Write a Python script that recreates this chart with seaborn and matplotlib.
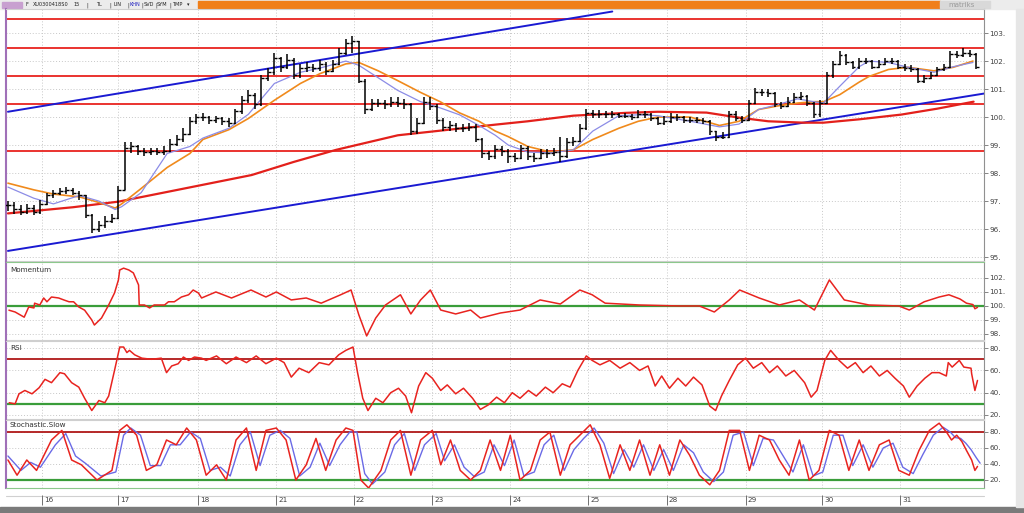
import numpy as np
import pandas as pd
import matplotlib
matplotlib.use("Agg")
import matplotlib.pyplot as plt
import matplotlib.transforms as mtransforms
import seaborn as sns

# ---------------- data ----------------
close = [96.85, 96.7, 96.6, 96.75, 96.6, 96.9, 97.2, 97.3, 97.35, 97.4,
         97.3, 97.2, 96.5, 96.0, 96.15, 96.3, 96.4, 97.4, 98.9, 98.95,
         98.8, 98.75, 98.8, 98.75, 98.8, 99.05, 99.2, 99.4, 99.85, 100.0,
         100.0, 99.9, 99.95, 99.85, 99.8, 100.2, 100.6, 100.8, 100.45, 101.4,
         101.6, 102.1, 101.8, 102.05, 101.5, 101.75, 101.8, 101.75, 101.9, 101.65,
         101.9, 102.3, 102.65, 102.7, 101.3, 100.3, 100.5, 100.5, 100.45, 100.55,
         100.5, 100.45, 99.5, 99.8, 100.55, 100.4, 99.9, 99.65, 99.7, 99.6,
         99.6, 99.65, 99.2, 98.7, 98.6, 98.85, 98.8, 98.6, 98.55, 98.9,
         98.6, 98.55, 98.7, 98.7, 98.75, 98.6, 99.1, 99.15, 99.6, 100.15,
         100.1, 100.1, 100.1, 100.1, 100.05, 100.05, 100.0, 100.1, 100.1, 99.95,
         99.8, 99.85, 100.0, 100.0, 99.9, 99.9, 99.9, 99.85, 99.5, 99.3,
         99.3, 100.1, 99.95, 99.9, 100.5, 100.9, 100.9, 100.85, 100.45, 100.4,
         100.55, 100.7, 100.75, 100.5, 100.1, 100.5, 101.5, 101.9, 102.2, 101.95,
         101.8, 102.0, 102.0, 101.8, 101.9, 102.0, 102.0, 101.8, 101.75, 101.7,
         101.3, 101.4, 101.5, 101.7, 101.8, 102.25, 102.2, 102.3, 102.25, 101.8]

high = [97.0, 96.95, 96.85, 96.9, 96.85, 97.05, 97.3, 97.4, 97.45, 97.5,
        97.45, 97.35, 97.2, 96.55, 96.3, 96.45, 96.55, 97.55, 99.1, 99.1,
        99.0, 98.9, 98.9, 98.9, 98.95, 99.2, 99.35, 99.6, 100.0, 100.1,
        100.15, 100.05, 100.05, 100.0, 99.95, 100.3, 100.75, 100.95, 100.85, 101.5,
        101.75, 102.3, 102.15, 102.25, 102.1, 101.9, 101.95, 101.9, 102.05, 101.95,
        102.05, 102.45, 102.8, 102.9, 102.7, 101.35, 100.65, 100.65, 100.6, 100.7,
        100.7, 100.65, 100.5, 99.95, 100.7, 100.7, 100.45, 99.95, 99.85, 99.8,
        99.75, 99.8, 99.75, 99.25, 98.8, 99.0, 98.95, 98.85, 98.7, 99.0,
        98.95, 98.7, 98.85, 98.85, 98.9, 99.3, 99.25, 99.3, 99.75, 100.3,
        100.25, 100.25, 100.2, 100.2, 100.15, 100.15, 100.12, 100.25, 100.2, 100.15,
        100.0, 100.05, 100.15, 100.1, 100.05, 100.0, 100.0, 99.95, 99.9, 99.5,
        99.45, 100.2, 100.2, 100.05, 100.6, 101.05, 101.0, 101.0, 100.9, 100.55,
        100.7, 100.85, 100.9, 100.8, 100.55, 100.6, 101.6, 102.0, 102.35, 102.25,
        102.0, 102.1, 102.1, 102.05, 102.05, 102.1, 102.1, 102.05, 101.9, 101.85,
        101.75, 101.5, 101.6, 101.8, 101.9, 102.35, 102.35, 102.45, 102.4, 102.3]

low = [96.65, 96.55, 96.5, 96.55, 96.5, 96.55, 96.85, 97.1, 97.2, 97.25,
       97.2, 97.05, 96.4, 95.85, 95.9, 96.05, 96.2, 96.35, 97.4, 98.7,
       98.65, 98.6, 98.65, 98.65, 98.65, 98.75, 98.95, 99.1, 99.35, 99.75,
       99.85, 99.75, 99.8, 99.7, 99.65, 99.75, 100.1, 100.5, 100.3, 100.4,
       101.3, 101.5, 101.6, 101.7, 101.35, 101.4, 101.6, 101.6, 101.65, 101.5,
       101.6, 101.85, 102.2, 102.3, 101.2, 100.1, 100.2, 100.35, 100.3, 100.35,
       100.35, 100.3, 99.35, 99.4, 99.75, 100.25, 99.75, 99.5, 99.5, 99.45,
       99.45, 99.5, 99.1, 98.55, 98.45, 98.5, 98.6, 98.35, 98.4, 98.5,
       98.45, 98.4, 98.5, 98.55, 98.6, 98.4, 98.55, 98.95, 99.1, 99.55,
       99.95, 99.95, 99.95, 99.95, 99.95, 99.95, 99.9, 99.95, 99.95, 99.85,
       99.7, 99.7, 99.8, 99.85, 99.8, 99.8, 99.8, 99.75, 99.35, 99.15,
       99.2, 99.25, 99.85, 99.8, 99.85, 100.45, 100.75, 100.7, 100.35, 100.3,
       100.35, 100.5, 100.6, 100.4, 99.95, 100.0, 100.45, 101.4, 101.85, 101.85,
       101.7, 101.7, 101.9, 101.7, 101.75, 101.85, 101.9, 101.7, 101.65, 101.6,
       101.2, 101.2, 101.35, 101.45, 101.65, 101.75, 102.1, 102.15, 102.15, 101.7]

ma_t = [0, 4, 7, 11, 14, 16.5, 17.5, 20.5, 24.5, 28, 30, 34, 37, 41, 45, 48, 52, 54, 57,
        60, 63.5, 66.5, 69.5, 72.5, 75, 77, 80, 83.5, 87, 90, 94, 97, 100, 105, 109.5,
        112.5, 115.5, 118.5, 121.5, 124, 125.5, 128, 131, 132.5, 135.5, 138.5, 142.5,
        145.5, 148.5]
ma_fast = [97.5, 97.1, 96.9, 97.2, 97.0, 96.7, 96.8, 97.3, 98.7, 98.95, 99.25, 99.6,
           100.1, 101.2, 101.6, 101.75, 102.0, 101.85, 101.4, 100.95, 100.55, 100.33,
           100.08, 99.7, 99.35, 99.0, 98.75, 98.72, 98.83, 99.5, 100.05, 100.08, 100.05,
           99.85, 99.65, 99.75, 100.27, 100.45, 100.65, 100.55, 100.5, 101.1, 101.8,
           102.0, 101.95, 101.78, 101.6, 101.8, 101.95]
ma_mid = [97.64, 97.4, 97.25, 97.15, 96.95, 96.75, 96.9, 97.45, 98.2, 98.7, 99.2, 99.55,
          99.95, 100.6, 101.2, 101.55, 101.9, 101.95, 101.65, 101.3, 100.88, 100.55,
          100.15, 99.85, 99.5, 99.3, 98.95, 98.75, 98.83, 99.2, 99.6, 99.85, 100.0,
          100.0, 99.7, 99.85, 100.27, 100.4, 100.5, 100.55, 100.55, 100.8, 101.25,
          101.45, 101.7, 101.78, 101.65, 101.78, 102.0]

ma_slow_t = [0, 10, 17, 25, 37.5, 44, 50.5, 60, 75, 80, 87, 95, 100, 107.5, 112.5, 117,
             122.5, 125.5, 131, 137.5, 143, 148.6]
ma_slow = [96.56, 96.78, 96.98, 97.35, 97.93, 98.4, 98.83, 99.35, 99.73, 99.85, 100.05,
           100.15, 100.19, 100.16, 99.98, 99.85, 99.8, 99.8, 99.92, 100.09, 100.3, 100.55]

levels = [103.5, 102.45, 101.45, 100.45, 98.8]
upper_trend_t = [0, 93]
upper_trend = [100.19, 103.77]
lower_trend_t = [0, 150.2]
lower_trend = [95.22, 100.84]

mom_t = [0.15, 1.1, 2.5, 3.2, 4.0, 4.1, 4.9, 5.5, 6.0, 6.7, 7.8, 8.6, 9.4, 10.1, 10.9,
         11.8, 12.9, 13.3, 14.4, 15.5, 16.4, 17.0, 17.2, 17.8, 18.6, 19.3, 20.1, 20.2,
         21.0, 21.8, 22.5, 24.1, 24.7, 25.6, 26.7, 27.8, 28.5, 29.3, 29.8,
         32, 34.4, 37.4, 39.7, 41.3, 43.6, 45.9, 48.2, 51.2, 52.8, 54,
         55.2, 56.6, 58.1, 60.4, 62, 63.5, 65, 66.6, 68.9, 71.2, 72.7, 75.8, 78.8, 81.9,
         85, 88, 89.9, 91.9, 97.2, 103.4, 106.4, 108.7, 111, 112.6, 115.6, 118.7, 121.8,
         124.1, 126.4, 128.7, 132.5, 137.1, 138.7, 141.0, 143.3, 144.8, 146.5, 147.5,
         148.5, 148.8, 149.2]
mom = [99.7, 99.57, 99.2, 99.93, 99.86, 100.2, 100.07, 100.57, 100.3, 100.64, 100.57,
       100.43, 100.3, 100.3, 99.93, 99.7, 99.0, 98.64, 99.14, 100.07, 100.93, 101.86,
       102.57, 102.7, 102.57, 102.36, 101.5, 100.07, 100.07, 99.86, 100.07, 100.07, 100.3,
       100.3, 100.64, 100.8, 101.14, 100.93, 100.57,
       101.0, 100.57, 101.14, 100.64, 101.0, 100.43, 100.57, 100.2, 100.8, 101.14, 99.36,
       97.86, 99.14, 100.07, 100.8, 99.43, 100.43, 101.14, 99.71, 99.43, 99.71, 99.14,
       99.5, 99.71, 100.43, 100.14, 101.14, 100.8, 100.2, 100.07, 100.0, 100.0, 99.57,
       100.43, 101.14, 100.57, 100.07, 100.43, 99.71, 101.86, 100.43, 100.07, 100.0,
       99.71, 100.3, 100.64, 100.8, 100.5, 100.2, 100.1, 99.8, 99.9]

rsi_t = [0.2, 1.1, 1.7, 2.6, 3.7, 4.8, 5.7, 6.7, 8.0, 8.7, 9.8, 10.9, 11.8, 12.9, 14.0,
         14.9, 15.5, 16.4, 17.2, 17.8, 18.3, 18.7, 19.5, 20.6, 22.1, 23.6, 24.4, 25.2,
         26.2, 27.0, 27.8, 28.7, 29.8,
         30.5, 32.1, 33.6, 35.1, 36.7, 38.2, 39.7, 41.3, 42.5, 43.6, 44.8, 46.3, 47.9,
         49.4, 50.9, 52.0, 53.1, 53.8, 54.6, 55.4, 56.6, 57.7, 58.9, 60.1, 61.2, 62.1,
         63.2, 64.3, 65.3, 66.6, 67.6, 68.9, 70.1, 71.5, 72.7, 73.9, 75.2, 76.4, 77.6,
         78.8, 80.1, 81.3, 82.7, 83.9, 85.3, 86.5, 87.7, 89.0, 89.9, 91.1, 92.6, 94.2,
         95.7, 97.2, 98.5, 99.6, 100.6, 101.8, 103.1, 104.3, 105.5, 106.8, 108.0, 108.9,
         109.8, 111.0, 112.3, 113.5, 114.7, 116.0, 117.2, 118.4, 119.7, 121.0, 122.6,
         123.6, 124.5, 125.7, 126.6, 127.9, 129.2, 130.4, 131.6, 132.8, 134.1, 135.3,
         136.5, 137.8, 138.7, 139.9, 141.1, 142.2, 143.3, 144.4, 144.7, 145.3, 146.4,
         147.1, 148.2, 148.3, 148.8, 149.2]
rsi = [31, 30, 39, 42, 39, 44.5, 52, 49, 58, 57, 49, 45, 35, 24, 33, 31, 37, 60, 81, 81,
       76, 78, 74, 71, 70, 71, 58, 64, 66, 72, 69, 72, 71,
       69, 73, 66, 72, 67, 73, 66, 71, 67, 54, 62, 58, 67,
       65, 74, 78, 81, 58, 35, 24, 35, 31, 40, 44, 37, 22,
       46, 58, 53, 42, 47, 39, 44, 35, 25, 29, 36, 31, 40,
       35, 42, 37, 45, 40, 48, 45, 60, 73, 69, 65, 69, 62,
       67, 60, 64, 46, 55, 44, 53, 46, 54, 47, 28, 24,
       37, 51, 65, 71, 62, 67, 58, 64, 55, 60, 49,
       36, 42, 69, 78, 69, 62, 67, 58, 64, 55, 60,
       53, 46, 36, 46, 53, 58, 58, 55, 67, 63, 69,
       63, 62, 57, 42, 51]

stoch_t = [0, 1.4, 2.9, 4.4, 6.7, 8.3, 9.8, 11.3, 13.7, 16.0,
           17.2, 18.3, 19.8, 21.3, 22.9, 24.4, 25.9, 27.5, 29.0, 30.5,
           32.1, 33.6, 35.1, 36.7, 38.2, 39.7, 41.3, 42.8, 44.3, 45.9,
           47.4, 48.9, 50.5, 52.0, 53.1, 54.3, 55.5, 57.4, 58.9, 60.4,
           62.0, 63.5, 65.3, 66.6, 68.1, 69.6, 71.2, 72.7, 74.2, 75.8,
           77.3, 78.8, 80.4, 81.9, 83.4, 85.0, 86.5, 88.0, 89.6, 91.1,
           92.6, 94.2, 95.7, 97.2, 98.8, 100.3, 101.8, 103.4, 104.9, 106.4,
           108.0, 109.5, 111.0, 112.6, 114.1, 115.6, 117.2, 118.7, 120.2, 121.8,
           123.3, 124.8, 126.4, 127.9, 129.4, 131.0, 132.5, 134.1, 135.6, 137.1,
           138.7, 140.2, 141.8, 143.3, 144.5, 145.2, 146.0, 146.8, 147.5, 148.3,
           148.8, 149.2]
stoch_k = [45, 26, 45, 32, 70, 82, 45, 39, 20, 32,
           82, 89, 76, 32, 39, 70, 64, 85, 70, 26,
           39, 20, 70, 85, 32, 82, 85, 70, 20, 39,
           72, 32, 70, 85, 82, 20, 10, 32, 70, 82,
           26, 70, 82, 39, 70, 32, 20, 32, 70, 32,
           76, 20, 32, 70, 80, 26, 64, 76, 89, 64,
           22, 64, 32, 70, 26, 64, 26, 70, 51, 26,
           14, 32, 82, 82, 32, 76, 70, 45, 26, 70,
           20, 32, 82, 76, 32, 70, 32, 64, 70, 32,
           26, 57, 82, 91, 79, 70, 76, 68, 57, 45,
           32, 37]
stoch_d_t = [0, 2.0, 3.5, 5.0, 7.3, 8.9, 10.4, 11.9, 14.3, 16.6,
             17.8, 18.9, 20.4, 21.9, 23.5, 25.0, 26.5, 28.1, 29.6, 31.1,
             32.7, 34.2, 35.7, 37.3, 38.8, 40.3, 41.9, 43.4, 44.9, 46.5,
             48.0, 49.5, 51.1, 52.6, 53.7, 54.9, 56.1, 58.0, 59.5, 61.0,
             62.6, 64.1, 65.9, 67.2, 68.7, 70.2, 71.8, 73.3, 74.8, 76.4,
             77.9, 79.4, 81.0, 82.5, 84.0, 85.6, 87.1, 88.6, 90.2, 91.7,
             93.2, 94.8, 96.3, 97.8, 99.4, 100.9, 102.4, 104.0, 105.5, 107.0,
             108.6, 110.1, 111.6, 113.2, 114.7, 116.2, 117.8, 119.3, 120.8, 122.4,
             123.9, 125.4, 127.0, 128.5, 130.0, 131.6, 133.1, 134.7, 136.2, 137.7,
             139.3, 140.8, 142.4, 143.9, 145.0, 145.8, 146.6, 147.4, 148.2, 149.0,
             149.6]
stoch_d = [50, 32, 42, 36, 64, 78, 50, 41, 25, 30,
           76, 85, 76, 38, 38, 64, 64, 80, 72, 32,
           36, 25, 64, 80, 38, 76, 82, 72, 25, 36,
           66, 38, 64, 80, 80, 28, 15, 30, 64, 78,
           32, 64, 78, 44, 64, 36, 24, 30, 64, 38,
           70, 25, 30, 64, 76, 32, 58, 72, 85, 66,
           28, 58, 36, 64, 32, 58, 32, 64, 54, 30,
           18, 30, 76, 80, 38, 72, 70, 50, 30, 64,
           25, 30, 76, 76, 38, 64, 36, 60, 66, 36,
           28, 52, 76, 86, 80, 73, 72, 66, 58, 48,
           41]

day_labels = ["16", "17", "18", "21", "22", "23", "24", "25", "28", "29", "30", "31"]
day_pos = [5.2, 17.0, 29.3, 41.3, 53.2, 65.3, 77.3, 89.3, 101.4, 113.5, 125.3, 137.3]

toolbar_items = ["F", "XU0300418S0", "15", "|", "TL", "|", "LIN", "|", "KHN", "|",
                 "SVD", "|", "SYM", "|", "TMP", "\u25be"]

# ---------------- style ----------------
sns.set_style("white")
plt.rcParams["font.family"] = ["DejaVu Sans"]

W, H = 1024, 513
fig = plt.figure(figsize=(W / 100, H / 100), dpi=100)
fig.patch.set_facecolor("white")

def box(top, bottom):
    return [6 / W, 1 - bottom / H, 978 / W, (bottom - top) / H]

XLIM = (-0.3, 150.2)
ax_main = fig.add_axes(box(9, 261))
ax_mom = fig.add_axes(box(262, 340))
ax_rsi = fig.add_axes(box(341, 419))
ax_sto = fig.add_axes(box(420, 488))
axes = [ax_main, ax_mom, ax_rsi, ax_sto]

RED = "#e8231f"
DARKRED = "#b01818"
GREEN = "#3a9d3a"
GRID = "#c8c8c8"

for ax in axes:
    ax.set_xlim(*XLIM)
    ax.set_facecolor("white")
    for s in ["top", "bottom"]:
        ax.spines[s].set_color("#cfcfcf")
        ax.spines[s].set_linewidth(0.8)
    ax.spines["left"].set_color("#a070b8")
    ax.spines["left"].set_linewidth(1.5)
    ax.spines["right"].set_color("#909090")
    ax.spines["right"].set_linewidth(0.8)
    ax.yaxis.tick_right()
    ax.tick_params(axis="y", direction="out", length=3, width=0.6, color="#707070",
                   labelsize=5.2, labelcolor="#404040", pad=1)
    ax.set_xticks(day_pos)
    ax.tick_params(axis="x", length=0, labelbottom=False)
    ax.grid(True, color=GRID, linestyle=(0, (1, 2)), linewidth=0.7)

def fmt_ticks(ax, ticks):
    ax.set_yticks(ticks)
    ax.set_yticklabels([f"{t:.0f}." for t in ticks])

# ---------------- main panel ----------------
ax_main.set_ylim(94.86, 103.86)
fmt_ticks(ax_main, list(range(95, 104)))

for lv in levels:
    ax_main.axhline(lv, color=RED, lw=1.3, zorder=2)

sns.lineplot(x=upper_trend_t, y=upper_trend, ax=ax_main, color="#1a1ad2", lw=1.4, zorder=3)
sns.lineplot(x=lower_trend_t, y=lower_trend, ax=ax_main, color="#1a1ad2", lw=1.4, zorder=3)
sns.lineplot(x=ma_slow_t, y=ma_slow, ax=ax_main, color="#e3201b", lw=1.6, zorder=3)
sns.lineplot(x=ma_t, y=ma_mid, ax=ax_main, color="#f08a1c", lw=1.2, zorder=4)
sns.lineplot(x=ma_t, y=ma_fast, ax=ax_main, color="#8c8ce6", lw=0.9, zorder=4)

c = np.array(close)
o = np.concatenate([[c[0]], c[:-1]])
idx = np.arange(len(c))
ax_main.vlines(idx, low, high, color="black", lw=1.1, zorder=5)
ax_main.hlines(o, idx - 0.42, idx, color="black", lw=1.0, zorder=5)
ax_main.hlines(c, idx, idx + 0.42, color="black", lw=1.0, zorder=5)

# ---------------- momentum ----------------
ax_mom.set_ylim(97.57, 103.14)
fmt_ticks(ax_mom, [98, 99, 100, 101, 102])
ax_mom.axhline(100, color=GREEN, lw=1.6, zorder=2)
sns.lineplot(x=mom_t, y=mom, ax=ax_mom, color=RED, lw=1.1, zorder=3, sort=False)
ax_mom.text(0.004, 0.93, "Momentum", transform=ax_mom.transAxes, fontsize=5.2,
            va="top", ha="left", color="#303030")
ax_mom.spines["top"].set_color("#8cc88c")

# ---------------- RSI ----------------
ax_rsi.set_ylim(16.4, 86.4)
fmt_ticks(ax_rsi, [20, 40, 60, 80])
ax_rsi.axhline(70, color=DARKRED, lw=1.3, zorder=2)
ax_rsi.axhline(30, color=GREEN, lw=1.6, zorder=2)
sns.lineplot(x=rsi_t, y=rsi, ax=ax_rsi, color=RED, lw=1.1, zorder=3, sort=False)
ax_rsi.text(0.004, 0.95, "RSI", transform=ax_rsi.transAxes, fontsize=5.2,
            va="top", ha="left", color="#303030")

# ---------------- stochastic ----------------
ax_sto.set_ylim(10, 95)
fmt_ticks(ax_sto, [20, 40, 60, 80])
ax_sto.axhline(80, color=DARKRED, lw=1.3, zorder=2)
ax_sto.axhline(20, color=GREEN, lw=1.6, zorder=2)
sns.lineplot(x=stoch_d_t, y=stoch_d, ax=ax_sto, color="#6a6ae6", lw=1.0, zorder=3, sort=False)
sns.lineplot(x=stoch_t, y=stoch_k, ax=ax_sto, color=RED, lw=1.1, zorder=4, sort=False)
ax_sto.text(0.004, 0.97, "Stochastic.Slow", transform=ax_sto.transAxes, fontsize=5.2,
            va="top", ha="left", color="#303030")
ax_sto.spines["bottom"].set_color("#8cc88c")

# date axis under the last panel
btr = mtransforms.blended_transform_factory(ax_sto.transData, ax_sto.transAxes)
ax_sto.axhline(-0.06, color="#d0d0d0", lw=0.8, clip_on=False, xmin=0, xmax=1)
ax_sto.vlines(day_pos, -0.10, -0.25, color="#707070", lw=0.7, transform=btr, clip_on=False)
for p, lab in zip(day_pos, day_labels):
    ax_sto.text(p + 0.3, -0.175, lab, transform=btr, fontsize=5.2, ha="left", va="center",
                color="#404040", clip_on=False)

# ---------------- frame decorations ----------------
deco = fig.add_axes([0, 0, 1, 1], zorder=-1)
deco.set_xlim(0, W)
deco.set_ylim(H, 0)
deco.axis("off")
deco.add_patch(plt.Rectangle((0, 0), W, 9, color="#ececec"))
deco.add_patch(plt.Rectangle((2, 1.5), 20, 6, color="#c8a0d0"))
deco.add_patch(plt.Rectangle((198, 1), 742, 7, color="#f07f1a"))
deco.add_patch(plt.Rectangle((940, 1), 50, 7, color="#d9d9d9"))
tb_x = [25, 33, 74, 86, 96, 109, 114, 127, 130, 141, 144, 155, 157, 169, 172, 187]
for xx, item in zip(tb_x, toolbar_items):
    deco.text(xx, 4.8, item, fontsize=3.6, va="center", ha="left",
              color="#2020c0" if item == "KHN" else "#202020")
deco.text(962, 4.8, "matriks", fontsize=5, va="center", ha="center", color="#9a9a9a")
deco.add_patch(plt.Rectangle((0, 507), W, 6, color="#7a7a7a"))
deco.add_patch(plt.Rectangle((1016, 9), 8, 498, color="#e6e6e6"))

fig.savefig("out.png", dpi=100)
